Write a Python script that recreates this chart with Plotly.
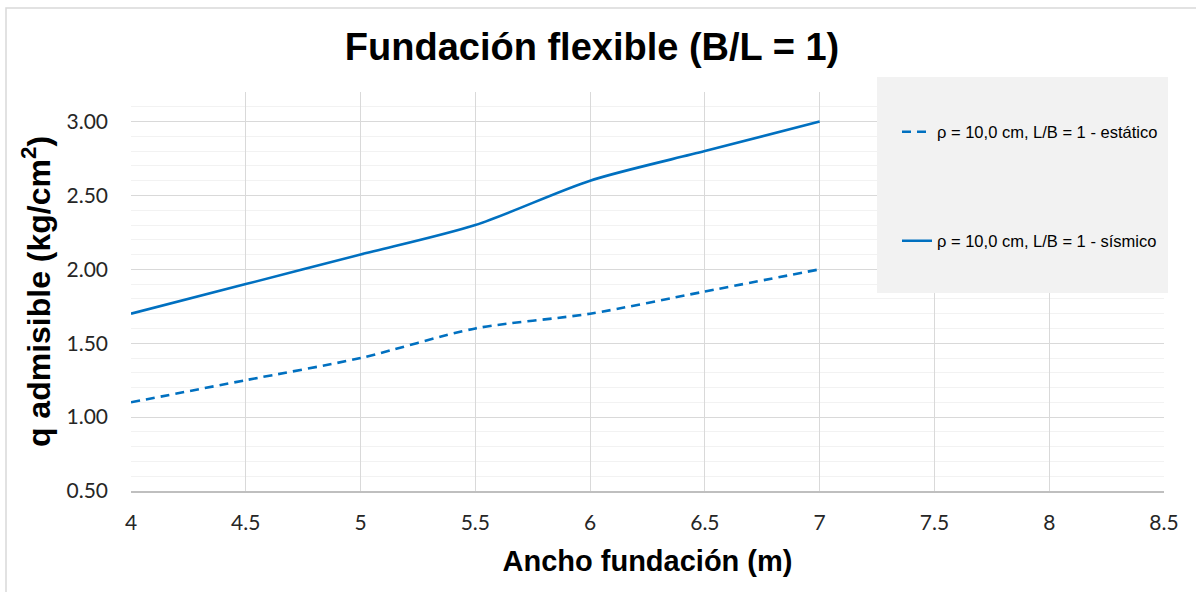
import plotly.graph_objects as go

# Foundation width (m) and allowable bearing pressure (kg/cm²)
ancho = [4, 4.5, 5, 5.5, 6, 6.5, 7]
q_estatico = [1.10, 1.25, 1.40, 1.60, 1.70, 1.85, 2.00]
q_sismico = [1.70, 1.90, 2.10, 2.30, 2.60, 2.80, 3.00]

nombre_estatico = "ρ = 10,0 cm, L/B = 1 - estático"
nombre_sismico = "ρ = 10,0 cm, L/B = 1 - sísmico"

x_ticks = [4, 4.5, 5, 5.5, 6, 6.5, 7, 7.5, 8, 8.5]
x_ticktext = ["4", "4.5", "5", "5.5", "6", "6.5", "7", "7.5", "8", "8.5"]
y_ticks = [0.5, 1.0, 1.5, 2.0, 2.5, 3.0]

AZUL = "#0070C0"
W, H = 1196, 592
M_L, M_R, M_T, M_B = 131, 32, 92, 101
PW, PH = W - M_L - M_R, H - M_T - M_B


def px_x(p):
    return (p - M_L) / PW


def px_y(p):
    return (H - M_B - p) / PH


fig = go.Figure()
fig.add_trace(go.Scatter(
    x=ancho, y=q_estatico, mode="lines", name=nombre_estatico,
    line=dict(color=AZUL, width=2.6, dash="9px,6px", shape="spline", smoothing=0.8),
    legend="legend",
))
fig.add_trace(go.Scatter(
    x=ancho, y=q_sismico, mode="lines", name=nombre_sismico,
    line=dict(color=AZUL, width=2.6, shape="spline", smoothing=0.8),
    legend="legend2",
))

tick_font = dict(family="Lato, Calibri, sans-serif", size=21, color="#262626")
title_font = dict(family="Liberation Sans, Arial, sans-serif", color="#000000")
legend_font = dict(family="Liberation Sans, Arial, sans-serif", size=16.5, color="#000000")

fig.update_layout(
    width=W, height=H,
    margin=dict(l=M_L, r=M_R, t=M_T, b=M_B),
    paper_bgcolor="white", plot_bgcolor="white",
    title=dict(
        text="<b>Fundación flexible (B/L = 1)</b>",
        x=592 / W, xref="container", xanchor="center",
        y=1 - 47 / H, yref="container", yanchor="middle",
        font=dict(size=38, **title_font),
    ),
    xaxis=dict(
        range=[4, 8.5], tickvals=x_ticks, ticktext=x_ticktext,
        tickfont=tick_font, ticks="", ticklabelstandoff=12,
        showgrid=True, gridcolor="#D9D9D9", gridwidth=1,
        showline=True, linecolor="#BFBFBF", linewidth=1.5,
        zeroline=False, fixedrange=True,
        title=dict(text="<b>Ancho fundación (m)</b>", font=dict(size=29, **title_font), standoff=18),
    ),
    yaxis=dict(
        range=[0.5, 3.2], tickvals=y_ticks, tickformat=".2f",
        tickfont=tick_font, ticks="", ticklabelstandoff=22,
        showgrid=True, gridcolor="#D9D9D9", gridwidth=1,
        minor=dict(dtick=0.1, showgrid=True, gridcolor="#F2F2F2", gridwidth=1),
        showline=False, zeroline=False, fixedrange=True,
        title=dict(text="<b>q admisible (kg/cm<sup>2</sup>)</b>", font=dict(size=32, **title_font), standoff=6),
    ),
    legend=dict(
        x=px_x(897), xanchor="left", y=px_y(132), yanchor="middle",
        bgcolor="rgba(0,0,0,0)", font=legend_font,
    ),
    legend2=dict(
        x=px_x(897), xanchor="left", y=px_y(241), yanchor="middle",
        bgcolor="rgba(0,0,0,0)", font=legend_font,
    ),
    showlegend=True,
    shapes=[
        # legend panel
        dict(type="rect", xref="paper", yref="paper",
             x0=px_x(877), x1=px_x(1168), y0=px_y(293), y1=px_y(77),
             fillcolor="#F2F2F2", line=dict(width=0), layer="above"),
        # chart frame
        dict(type="rect", xref="paper", yref="paper",
             x0=px_x(6), x1=px_x(1210), y0=px_y(610), y1=px_y(8),
             fillcolor="rgba(0,0,0,0)", line=dict(color="#D9D9D9", width=1.5), layer="below"),
    ],
)

fig.write_html("out.html")
